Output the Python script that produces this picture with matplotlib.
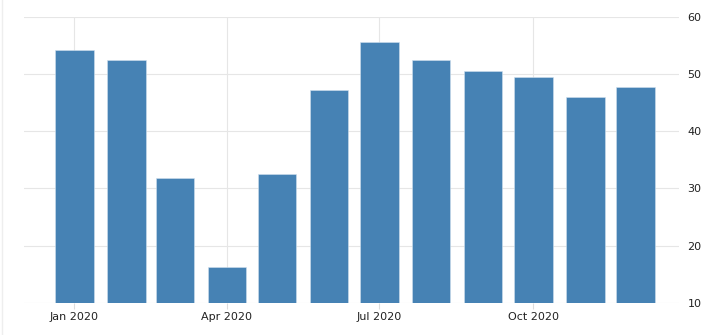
import pandas as pd
import matplotlib.pyplot as plt
from matplotlib.lines import Line2D

# Monthly values, 2020
months = pd.date_range("2020-01-01", periods=12, freq="MS")
values = [54.2, 52.5, 31.8, 16.2, 32.6, 47.2, 55.6, 52.5, 50.6, 49.5, 46.0, 47.8]
tick_dates = ["2020-01-01", "2020-04-01", "2020-07-01", "2020-10-01"]
tick_labels = ["Jan 2020", "Apr 2020", "Jul 2020", "Oct 2020"]
y_ticks = [10, 20, 30, 40, 50, 60]

fig = plt.figure(figsize=(7.28, 3.35), dpi=100)
ax = fig.add_axes([0.033, 0.0964, 0.9, 0.8526])

bottom = 10
ax.bar(months, [v - bottom for v in values], bottom=bottom, width=23,
       color="#4682b4", edgecolor="#cfe0ee", linewidth=0.4, zorder=3)

ax.set_ylim(10, 60)
ax.set_xlim(pd.Timestamp("2019-12-02"), pd.Timestamp("2020-12-27"))
ax.set_yticks(y_ticks)
ax.set_xticks(pd.to_datetime(tick_dates))
ax.set_xticklabels(tick_labels)

ax.yaxis.tick_right()
ax.tick_params(axis="y", length=0, pad=6, labelsize=8, labelcolor="#222222")
ax.tick_params(axis="x", length=4, color="#dddddd", pad=3, labelsize=8, labelcolor="#222222")

ax.grid(True, color="#e6e6e6", linewidth=0.8, zorder=0)
for s in ax.spines.values():
    s.set_visible(False)

# faint left frame line
fig.add_artist(Line2D([0.003, 0.003], [0.0, 1.0], color="#eeeeee", linewidth=1))

plt.savefig("out.png", dpi=100)
